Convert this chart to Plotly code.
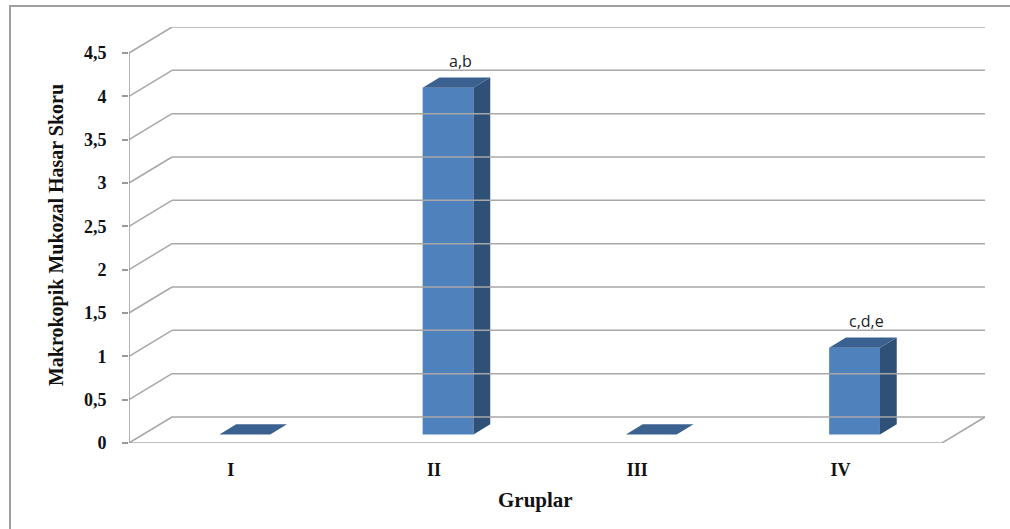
import plotly.graph_objects as go

# Groups and their macroscopic mucosal damage scores
groups = ["I", "II", "III", "IV"]
scores = [0, 4, 0, 1]
sig_labels = ["", "a,b", "", "c,d,e"]
y_ticks = [0, 0.5, 1, 1.5, 2, 2.5, 3, 3.5, 4, 4.5]

# 3D-style projection parameters (in axis units)
DX = 43 / 203.25      # horizontal depth shift
DY = 0.30             # vertical depth shift
F0, F1 = 0.33, 0.72   # front/back depth fractions of the bars
BW = 0.25             # bar width
X_MIN = 0.5
X_MAX = 0.5 + 856 / 203.25
Y_MAX = 4.8

FRONT = "#4F81BD"
TOP = "#3B6191"
SIDE = "#2F5077"
GRID = "#A8A8A8"
SERIF = "Liberation Serif, Times New Roman, serif"

fig = go.Figure()
shapes = []

# back wall gridlines with their left-wall diagonals
for v in y_ticks:
    shapes.append(dict(type="line", x0=X_MIN, y0=v, x1=X_MIN + DX, y1=v + DY,
                       line=dict(color=GRID, width=1.5)))
    shapes.append(dict(type="line", x0=X_MIN + DX, y0=v + DY, x1=X_MAX, y1=v + DY,
                       line=dict(color=GRID, width=1.5)))
# floor front edge and right diagonal
shapes.append(dict(type="line", x0=X_MIN, y0=0, x1=4.5, y1=0,
                   line=dict(color=GRID, width=1.5)))
shapes.append(dict(type="line", x0=4.5, y0=0, x1=4.5 + DX, y1=DY,
                   line=dict(color=GRID, width=1.5)))
# value axis line
shapes.append(dict(type="line", x0=X_MIN, y0=0, x1=X_MIN, y1=y_ticks[-1],
                   line=dict(color="#9A9A9A", width=1.5)))
# outer chart border
shapes.append(dict(type="rect", xref="paper", yref="paper",
                   x0=-119 / 856, y0=(443 - 6) / 416, x1=1.5, y1=-1.0,
                   line=dict(color="#A0A0A0", width=2), fillcolor="rgba(0,0,0,0)"))

dd_x = (F1 - F0) * DX
dd_y = (F1 - F0) * DY
for i, (g, v) in enumerate(zip(groups, scores)):
    c = i + 1
    x0 = c - BW / 2 + F0 * DX
    x1 = x0 + BW
    yb = F0 * DY
    yt = yb + v
    if v > 0:
        # front face
        fig.add_trace(go.Bar(x=[(x0 + x1) / 2], y=[v], base=[yb], width=[BW],
                             marker=dict(color=FRONT, line=dict(width=0)),
                             hoverinfo="skip", showlegend=False))
        # side face
        fig.add_trace(go.Scatter(x=[x1, x1, x1 + dd_x, x1 + dd_x, x1],
                                 y=[yb, yt, yt + dd_y, yb + dd_y, yb],
                                 fill="toself", fillcolor=SIDE, mode="lines",
                                 line=dict(width=0, color=SIDE),
                                 hoverinfo="skip", showlegend=False))
    # top face
    fig.add_trace(go.Scatter(x=[x0, x1, x1 + dd_x, x0 + dd_x, x0],
                             y=[yt, yt, yt + dd_y, yt + dd_y, yt],
                             fill="toself", fillcolor=TOP, mode="lines",
                             line=dict(width=0, color=TOP),
                             hoverinfo="skip", showlegend=False))
    if sig_labels[i]:
        fig.add_annotation(x=(x0 + x1) / 2 + 0.06, y=yt + dd_y, text=sig_labels[i],
                           showarrow=False, yanchor="bottom", yshift=4,
                           font=dict(family="Open Sans, Liberation Sans", size=16,
                                     color="#222222"))

# horizontal axis title
fig.add_annotation(xref="paper", yref="paper", x=(535 - 129) / 856, y=-(500 - 443) / 416,
                   text="Gruplar", showarrow=False, xanchor="center", yanchor="middle",
                   font=dict(family=SERIF, size=21, color="#111111", weight="bold"))

fig.update_layout(
    width=1010, height=529,
    margin=dict(l=129, r=25, t=27, b=86),
    paper_bgcolor="white", plot_bgcolor="white",
    separators=",.",
    barmode="overlay",
    shapes=shapes,
    xaxis=dict(range=[X_MIN, X_MAX], tickvals=[1, 2, 3, 4], ticktext=groups,
               showgrid=False, zeroline=False, showline=False, ticks="",
               ticklabelstandoff=14,
               tickfont=dict(family=SERIF, size=18, color="#111111", weight="bold")),
    yaxis=dict(range=[0, Y_MAX], tickvals=y_ticks, showgrid=False, zeroline=False,
               showline=False, ticks="outside", ticklen=6, tickcolor="#9A9A9A",
               tickwidth=1.5, ticklabelstandoff=12,
               tickfont=dict(family=SERIF, size=18, color="#111111", weight="bold"),
               title=dict(text="Makrokopik Mukozal Hasar Skoru", standoff=14,
                          font=dict(family=SERIF, size=20, color="#111111",
                                    weight="bold"))),
)

fig.write_html("out.html")
